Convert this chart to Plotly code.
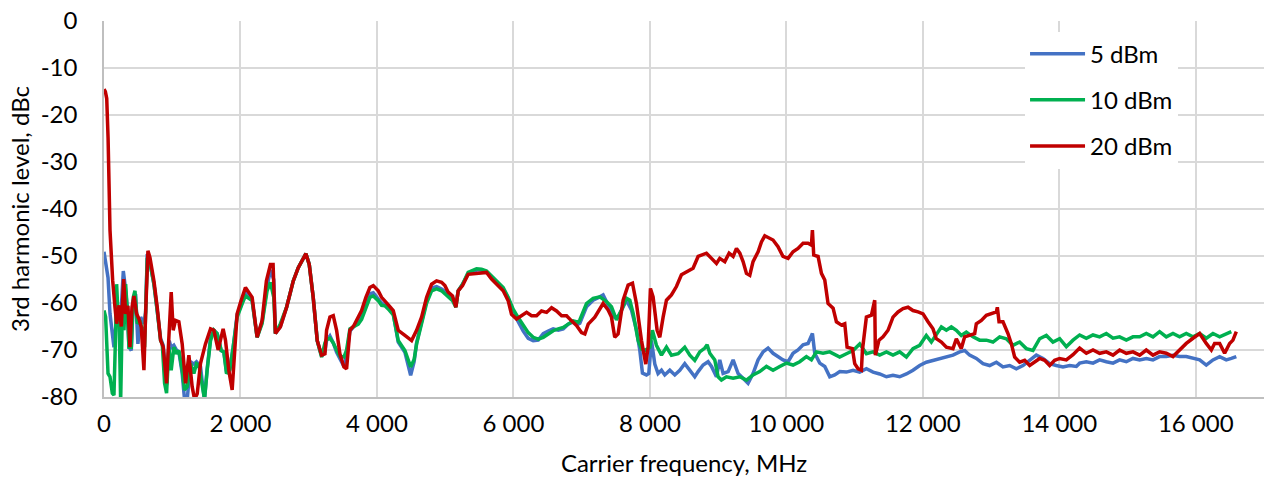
import plotly.graph_objects as go

# ---------------- data ----------------
SERIES_NAMES = ["5 dBm", "10 dBm", "20 dBm"]

blue_x = [0, 24, 40, 59, 88, 122, 146, 185, 220, 254, 283, 307, 341, 366, 400, 429, 463, 497, 537, 585,
          610, 634, 673, 732, 780, 829, 868, 917, 956, 985, 1024, 1063, 1098, 1146, 1180, 1220, 1268, 1317,
          1356, 1414, 1450, 1473, 1512, 1561, 1610, 1659, 1717, 1756, 1795, 1844, 1893, 1951, 2024, 2073,
          2171, 2244, 2317, 2390, 2439, 2488, 2512, 2585, 2676, 2774, 2847, 2920, 2959, 3008, 3066, 3125,
          3189, 3238, 3262, 3311, 3360, 3409, 3457, 3516, 3555, 3604, 3662, 3726, 3775, 3838, 3897, 3946,
          4019, 4068, 4117, 4180, 4239, 4312, 4410, 4494, 4545, 4581, 4654, 4728, 4801, 4874, 4947, 4996,
          5044, 5108, 5157, 5191, 5255, 5337, 5460, 5533, 5606, 5655, 5753, 5850, 5923, 5996, 6070, 6144,
          6217, 6290, 6364, 6437, 6510, 6583, 6657, 6730, 6803, 6876, 6949, 6973, 7071, 7168, 7266, 7315,
          7388, 7461, 7534, 7608, 7657, 7730, 7803, 7852, 7891, 7950, 7984, 8023, 8072, 8120, 8170, 8218,
          8292, 8365, 8438, 8511, 8585, 8658, 8707, 8780, 8853, 8903, 8976, 9024, 9073, 9147, 9220, 9293,
          9366, 9439, 9512, 9586, 9659, 9732, 9805, 9878, 9951, 10025, 10098, 10171, 10245, 10318, 10382,
          10416, 10489, 10563, 10636, 10709, 10783, 10880, 10978, 11075, 11173, 11271, 11368, 11466, 11563,
          11661, 11759, 11856, 11954, 12051, 12149, 12247, 12345, 12442, 12540, 12613, 12686, 12784, 12882,
          12980, 13078, 13175, 13273, 13370, 13468, 13566, 13663, 13761, 13859, 13956, 14054, 14152, 14250,
          14298, 14396, 14494, 14591, 14689, 14787, 14884, 14982, 15080, 15178, 15275, 15373, 15470, 15568,
          15666, 15763, 15861, 15959, 16057, 16154, 16252, 16350, 16447, 16521, 16594]
blue_y = [-49.1, -51.4, -54.0, -54.6, -62.3, -66.5, -69.4, -63.0, -64.4, -60.9, -53.2, -56.0, -60.9, -69.4,
          -70.1, -59.5, -58.1, -68.7, -63.0, -64.4, -62.0, -49.6, -51.4, -56.0, -61.6, -67.5, -69.0, -77.5,
          -68.0, -69.5, -69.0, -70.0, -70.5, -75.0, -80.5, -80.5, -72.5, -73.0, -72.5, -73.5, -78.0, -80.5,
          -74.0, -67.5, -65.8, -66.5, -70.1, -70.4, -74.5, -74.0, -69.4, -62.5, -60.0, -57.5, -59.5, -67.3,
          -64.0, -56.5, -53.0, -55.0, -66.5, -65.0, -60.9, -55.3, -52.5, -50.4, -49.5, -51.8, -58.8, -68.0,
          -71.3, -70.3, -68.0, -67.0, -68.5, -70.5, -72.0, -73.5, -71.0, -66.0, -65.0, -63.5, -62.5, -60.0,
          -58.0, -57.8, -59.0, -60.0, -60.5, -61.2, -62.2, -68.3, -70.5, -75.4, -72.5, -68.5, -64.0, -59.5,
          -56.8, -56.5, -57.0, -57.5, -58.3, -59.0, -60.5, -57.4, -56.0, -53.8, -53.0, -53.0, -53.3, -54.2,
          -55.5, -57.0, -59.0, -61.8, -64.0, -66.0, -67.5, -68.0, -67.9, -66.5, -66.0, -65.5, -65.8, -65.5,
          -64.5, -64.0, -64.5, -64.3, -60.8, -59.4, -58.7, -58.3, -60.4, -63.0, -63.0, -60.8, -59.4, -61.5,
          -65.7, -70.0, -74.9, -75.3, -75.0, -68.0, -73.0, -75.0, -74.3, -75.3, -74.3, -75.3, -74.3, -72.9,
          -74.3, -75.7, -74.6, -73.2, -72.5, -73.5, -75.7, -72.1, -75.0, -74.6, -72.1, -75.0, -76.0, -77.1,
          -75.0, -72.1, -70.4, -69.6, -70.7, -71.4, -72.1, -72.5, -70.7, -70.0, -68.9, -68.6, -66.5, -70.7,
          -72.8, -73.5, -75.7, -75.3, -74.6, -74.7, -74.3, -74.7, -74.0, -74.7, -75.1, -75.7, -75.4, -75.7,
          -75.1, -74.3, -73.3, -72.6, -72.2, -71.8, -71.5, -71.1, -70.4, -70.1, -71.1, -71.8, -72.9, -73.3,
          -72.6, -73.6, -73.3, -74.0, -73.3, -72.2, -71.1, -71.8, -72.9, -73.3, -73.6, -73.3, -73.5, -72.8,
          -72.5, -72.8, -72.1, -72.5, -72.8, -72.1, -72.5, -71.8, -72.1, -71.8, -72.1, -71.4, -71.4, -71.1,
          -71.4, -71.4, -71.8, -72.1, -73.2, -72.1, -71.4, -72.1, -71.8, -71.4]

green_x = [0, 24, 59, 88, 122, 146, 171, 185, 205, 224, 244, 268, 293, 317, 341, 366, 400, 429, 454, 488,
           527, 561, 595, 634, 673, 732, 780, 829, 854, 888, 917, 951, 985, 1024, 1063, 1098, 1146, 1180,
           1220, 1268, 1317, 1356, 1390, 1439, 1473, 1512, 1561, 1610, 1659, 1717, 1756, 1795, 1844, 1893,
           1951, 2024, 2073, 2171, 2244, 2317, 2390, 2439, 2488, 2512, 2585, 2676, 2774, 2847, 2920, 2959,
           3008, 3066, 3125, 3189, 3238, 3262, 3311, 3360, 3409, 3457, 3516, 3555, 3604, 3662, 3726, 3775,
           3838, 3897, 3946, 4019, 4068, 4117, 4180, 4239, 4312, 4410, 4494, 4545, 4581, 4654, 4728, 4801,
           4874, 4947, 4996, 5044, 5108, 5157, 5191, 5255, 5337, 5460, 5533, 5606, 5655, 5753, 5850, 5923,
           5996, 6070, 6144, 6217, 6290, 6364, 6437, 6510, 6583, 6657, 6730, 6803, 6876, 6949, 6973, 7071,
           7168, 7266, 7364, 7437, 7510, 7584, 7657, 7706, 7755, 7828, 7877, 7926, 8000, 8037, 8096, 8170,
           8243, 8316, 8414, 8511, 8585, 8658, 8731, 8805, 8839, 8878, 8951, 9000, 9049, 9122, 9220, 9318,
           9415, 9512, 9610, 9708, 9805, 9903, 10000, 10098, 10196, 10294, 10367, 10440, 10538, 10636,
           10734, 10782, 10880, 10978, 11075, 11173, 11271, 11368, 11466, 11563, 11661, 11759, 11856, 11954,
           12051, 12125, 12222, 12272, 12345, 12418, 12491, 12564, 12637, 12735, 12833, 12931, 13028, 13126,
           13224, 13321, 13419, 13517, 13614, 13712, 13810, 13907, 14005, 14103, 14201, 14298, 14396, 14494,
           14591, 14689, 14787, 14884, 14982, 15080, 15178, 15275, 15373, 15470, 15568, 15666, 15763, 15861,
           15959, 16057, 16154, 16252, 16350, 16447, 16521]
green_y = [-61.6, -63.0, -75.0, -75.7, -79.2, -79.6, -65.8, -56.0, -62.3, -65.1, -81.0, -62.3, -65.8, -56.0,
           -61.6, -69.4, -69.4, -58.8, -57.4, -64.4, -63.7, -65.8, -69.4, -50.4, -51.4, -56.0, -61.6, -68.0,
           -68.7, -77.1, -79.2, -69.4, -74.3, -69.4, -70.8, -70.1, -74.3, -78.5, -77.8, -72.9, -75.0, -72.9,
           -73.2, -77.1, -80.5, -74.3, -68.0, -65.8, -66.5, -70.1, -70.4, -75.0, -74.3, -69.4, -63.0, -60.2,
           -58.5, -59.5, -67.3, -64.4, -57.4, -55.6, -58.8, -66.5, -64.4, -60.9, -55.3, -52.5, -50.4, -49.5,
           -51.8, -58.8, -68.0, -71.5, -68.5, -67.8, -67.5, -68.5, -70.0, -71.3, -71.5, -70.0, -65.5, -65.0,
           -64.5, -63.5, -61.0, -58.8, -58.5, -59.5, -60.5, -60.6, -61.5, -62.5, -68.0, -70.1, -73.6, -72.0,
           -68.7, -64.0, -60.0, -57.4, -57.0, -57.4, -58.0, -58.5, -59.5, -60.9, -57.4, -56.0, -53.5, -52.7,
           -52.8, -53.2, -53.9, -55.3, -56.7, -58.8, -61.3, -63.1, -64.8, -66.3, -67.3, -67.7, -67.3, -66.6,
           -65.9, -65.5, -65.2, -64.5, -63.8, -64.1, -63.6, -60.1, -59.0, -58.7, -59.7, -60.8, -63.6, -61.5,
           -59.0, -59.4, -62.2, -68.0, -69.8, -70.1, -69.4, -65.8, -69.0, -71.1, -69.4, -71.1, -70.8, -69.4,
           -71.1, -72.2, -70.4, -69.6, -68.9, -70.7, -72.1, -75.7, -76.4, -75.7, -76.0, -75.7, -76.4, -75.3,
           -74.6, -73.5, -74.3, -73.5, -72.8, -73.2, -72.5, -71.4, -72.1, -70.4, -70.7, -70.4, -71.1, -71.5,
           -70.8, -70.1, -68.7, -70.8, -70.4, -71.1, -70.4, -71.1, -70.4, -71.5, -69.7, -69.0, -66.9, -68.3,
           -66.2, -65.1, -65.8, -65.1, -65.8, -66.9, -66.2, -67.2, -67.9, -67.9, -68.3, -67.2, -67.6, -69.0,
           -68.3, -69.7, -70.1, -67.6, -66.9, -68.3, -67.6, -69.3, -67.9, -66.8, -67.5, -66.8, -67.2, -66.5,
           -67.5, -67.2, -67.9, -67.2, -67.2, -66.5, -67.2, -66.1, -67.2, -66.5, -67.2, -66.5, -67.2, -66.5,
           -67.5, -66.5, -67.2, -66.5, -66.1]

red_x = [0, 20, 40, 60, 88, 127, 161, 185, 220, 254, 288, 317, 351, 380, 410, 439, 478, 512, 546, 585, 610,
         644, 673, 732, 780, 829, 868, 917, 956, 985, 1014, 1048, 1097, 1146, 1195, 1244, 1292, 1327, 1366,
         1414, 1487, 1561, 1610, 1673, 1707, 1746, 1780, 1829, 1878, 1912, 1951, 2000, 2073, 2171, 2244,
         2317, 2380, 2439, 2478, 2512, 2585, 2676, 2774, 2847, 2920, 2959, 3008, 3066, 3125, 3189, 3238,
         3262, 3311, 3360, 3409, 3457, 3516, 3555, 3604, 3662, 3726, 3775, 3838, 3897, 3946, 4019, 4068,
         4117, 4180, 4239, 4312, 4410, 4508, 4581, 4654, 4728, 4801, 4874, 4947, 4996, 5044, 5108, 5157,
         5191, 5255, 5337, 5460, 5533, 5606, 5680, 5753, 5850, 5923, 5972, 6046, 6119, 6193, 6266, 6339,
         6412, 6486, 6559, 6632, 6706, 6779, 6852, 6925, 6998, 7047, 7096, 7193, 7315, 7388, 7437, 7485,
         7534, 7608, 7681, 7745, 7803, 7877, 7940, 7974, 8008, 8047, 8106, 8145, 8194, 8243, 8316, 8389,
         8462, 8536, 8633, 8707, 8756, 8829, 8903, 8976, 9024, 9098, 9161, 9220, 9269, 9318, 9366, 9415,
         9464, 9512, 9586, 9635, 9684, 9747, 9805, 9878, 9951, 10025, 10098, 10171, 10245, 10318, 10367,
         10382, 10401, 10465, 10514, 10563, 10611, 10685, 10734, 10807, 10856, 10890, 10968, 11002, 11051,
         11100, 11115, 11173, 11247, 11295, 11305, 11358, 11417, 11490, 11563, 11637, 11710, 11783, 11856,
         11930, 12003, 12076, 12149, 12198, 12272, 12345, 12442, 12491, 12564, 12613, 12686, 12760, 12784,
         12858, 12931, 13004, 13078, 13092, 13117, 13175, 13248, 13298, 13346, 13419, 13493, 13566, 13639,
         13712, 13786, 13859, 13932, 14005, 14103, 14201, 14298, 14396, 14494, 14591, 14689, 14787, 14884,
         14982, 15080, 15178, 15275, 15373, 15470, 15568, 15666, 15763, 15861, 15959, 16057, 16154, 16228,
         16276, 16350, 16423, 16496, 16545, 16594]
red_y = [-14.5, -15.0, -16.5, -25.0, -44.5, -55.2, -60.9, -64.4, -60.5, -65.0, -54.9, -62.3, -60.6, -69.4,
         -60.9, -58.5, -62.3, -63.4, -65.1, -74.3, -62.3, -48.9, -50.3, -55.3, -60.9, -67.9, -69.4, -77.1,
         -65.8, -57.7, -65.8, -63.7, -64.0, -68.7, -77.1, -71.1, -77.8, -80.5, -79.3, -72.9, -68.7, -65.5,
         -65.8, -70.0, -67.9, -65.5, -67.9, -74.3, -78.5, -70.0, -62.3, -59.9, -56.7, -58.8, -67.3, -63.7,
         -55.3, -51.8, -51.8, -66.5, -65.1, -60.9, -55.3, -52.5, -50.4, -49.5, -51.8, -58.8, -68.0, -71.1,
         -70.8, -65.8, -63.0, -62.7, -65.8, -70.8, -73.6, -74.0, -65.8, -64.8, -63.0, -61.6, -58.8, -56.7,
         -56.3, -57.4, -58.8, -59.5, -60.6, -61.6, -65.8, -66.9, -68.0, -65.8, -63.0, -58.8, -56.0, -55.3,
         -55.6, -56.3, -57.7, -58.5, -60.9, -57.4, -56.3, -53.9, -53.7, -53.5, -53.5, -54.9, -56.0, -57.4,
         -59.5, -62.4, -63.4, -62.7, -62.0, -62.7, -62.7, -61.7, -62.0, -61.0, -61.7, -62.7, -62.7, -63.8,
         -64.8, -66.3, -66.6, -64.5, -63.0, -60.1, -61.5, -63.0, -67.3, -66.6, -59.4, -56.2, -55.8, -60.1,
         -68.0, -73.0, -69.4, -56.9, -58.7, -65.8, -67.3, -63.0, -59.4, -58.3, -56.5, -54.0, -53.3, -52.6,
         -50.1, -49.8, -49.4, -50.5, -51.6, -50.5, -51.2, -49.4, -50.1, -48.4, -49.4, -51.2, -53.7, -54.1,
         -51.2, -49.1, -47.0, -45.7, -46.2, -46.6, -48.0, -50.1, -50.5, -49.1, -48.4, -47.3, -47.3, -47.7,
         -44.5, -49.8, -50.1, -53.7, -55.1, -60.1, -61.1, -64.0, -64.7, -64.4, -69.4, -69.7, -72.9, -74.0,
         -74.3, -70.0, -63.0, -62.6, -59.4, -71.1, -67.9, -67.2, -65.8, -63.0, -61.9, -61.2, -60.9, -61.6,
         -61.9, -62.3, -64.0, -65.5, -67.6, -68.3, -69.4, -69.7, -67.6, -69.7, -67.2, -66.9, -66.5, -64.4,
         -63.7, -62.6, -62.3, -61.9, -60.9, -64.0, -64.0, -66.5, -68.7, -71.5, -72.6, -72.2, -73.3, -72.6,
         -71.8, -72.2, -73.3, -72.2, -71.8, -72.1, -71.0, -69.6, -70.7, -70.0, -70.7, -70.4, -71.1, -70.0,
         -70.7, -70.4, -71.1, -70.0, -71.1, -70.4, -70.7, -71.4, -70.0, -68.6, -67.5, -66.5, -68.6, -70.0,
         -68.6, -68.6, -70.7, -68.6, -67.9, -66.1]

X_TICKS = [0, 2000, 4000, 6000, 8000, 10000, 12000, 14000, 16000]
X_TICK_LABELS = ["0", "2 000", "4 000", "6 000", "8 000", "10 000", "12 000", "14 000", "16 000"]
Y_TICKS = [0, -10, -20, -30, -40, -50, -60, -70, -80]
Y_TICK_LABELS = ["0", "-10", "-20", "-30", "-40", "-50", "-60", "-70", "-80"]

X_TITLE = "Carrier frequency, MHz"
Y_TITLE = "3rd harmonic level, dBc"

# ---------------- styling ----------------
COLORS = ["#4472C4", "#00B050", "#C00000"]
FONT = "Lato, 'Open Sans', sans-serif"
GRID = "#D9D9D9"
FS = 24

fig = go.Figure()
for i, (name, xs, ys) in enumerate(zip(SERIES_NAMES, [blue_x, green_x, red_x], [blue_y, green_y, red_y])):
    fig.add_trace(go.Scatter(
        x=xs, y=ys, name=name, mode="lines",
        line=dict(color=COLORS[i], width=3.5),
        legendgroup=name,
    ))

fig.update_layout(
    width=1264, height=487,
    margin=dict(l=104, r=0, t=21, b=90, autoexpand=False),
    paper_bgcolor="white", plot_bgcolor="white",
    font=dict(family=FONT, size=FS, color="#000000"),
    showlegend=True,
    legend=dict(
        x=0.794, y=0.972, xanchor="left", yanchor="top",
        bgcolor="white", borderwidth=0,
        font=dict(family=FONT, size=FS, color="#000000"),
        itemwidth=55, tracegroupgap=12,
        traceorder="grouped",
    ),
)
fig.update_xaxes(
    range=[0, 17000], tickvals=X_TICKS, ticktext=X_TICK_LABELS,
    showgrid=True, gridcolor=GRID, gridwidth=1.5,
    showline=True, linecolor="#BFBFBF", linewidth=1.5,
    zeroline=False, ticks="", ticklabelstandoff=4,
    ticklabeloverflow="allow",
    title=dict(text=X_TITLE, standoff=20, font=dict(family=FONT, size=FS)),
)
fig.update_yaxes(
    range=[-80, 0], tickvals=Y_TICKS, ticktext=Y_TICK_LABELS,
    showgrid=True, gridcolor=GRID, gridwidth=1.5,
    showline=True, linecolor="#BFBFBF", linewidth=1.5,
    zeroline=False, ticks="", ticklabelstandoff=20,
    ticklabeloverflow="allow",
    title=dict(text=Y_TITLE, standoff=4, font=dict(family=FONT, size=FS)),
)

# remove the default 8 px page margin so the figure fills the window exactly
fig.write_html("out.html", config={"displayModeBar": False},
               post_script="document.body.style.margin='0';")
